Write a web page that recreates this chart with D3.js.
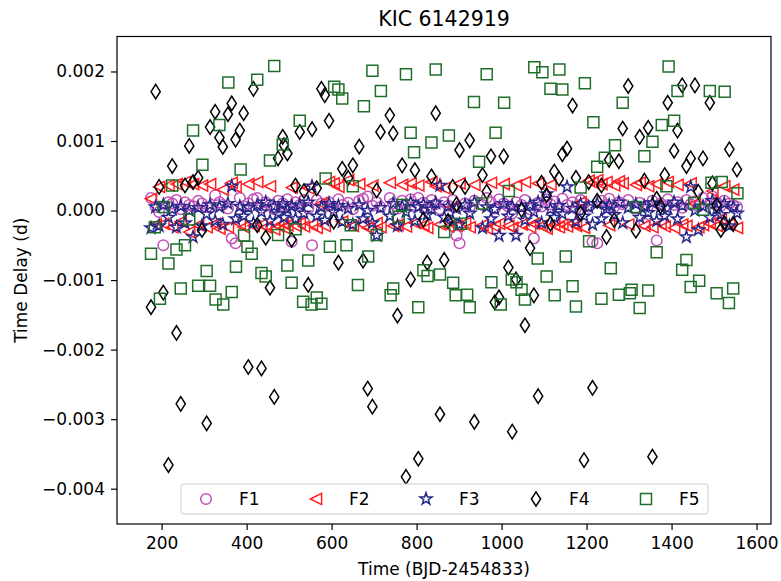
<!DOCTYPE html>
<html>
<head>
<meta charset="utf-8">
<script src="https://cdn.jsdelivr.net/npm/d3@7"></script>
<style>
  body { margin: 0; background: #fff; }
  svg { font-family: "DejaVu Sans", sans-serif; }
</style>
</head>
<body>
<svg width="781" height="581"></svg>
<script>

// time stamps (BJD-2454833) shared by F1..F4
var times = [175,186,194,204,216,225,235,245,255,265,
  274,286,295,306,314,326,336,344,356,365,
  374,384,393,404,416,425,435,445,455,465,
  474,485,488,496,506,515,525,535,545,554,
  565,576,584,594,605,616,625,639,650,665,
  674,685,696,706,715,737,745,755,766,775,
  786,796,804,816,825,835,845,855,865,874,
  885,894,901,914,925,936,955,965,975,984,
  994,1005,1016,1025,1034,1047,1055,1067,1076,1086,
  1094,1106,1115,1124,1135,1143,1154,1167,1175,1186,
  1194,1205,1214,1225,1235,1247,1253,1265,1276,1285,
  1298,1316,1325,1336,1345,1355,1365,1374,1384,1391,
  1406,1414,1425,1435,1445,1455,1463,1474,1490,1496,
  1506,1516,1524,1536,1545,1554]

var f1 = [0.00018,0.00005,-0.00002,-0.0005,0.00012,0.0001,0.00015,0.00002,0.00012,0.00008,
  0.00006,0.00014,0.0001,0.00005,0.00004,0.00022,0.00012,0.00008,0.00003,-0.0004,
  -0.00047,0.00018,0.00006,0.0001,0.00016,0.00018,0.00004,0.00012,0.00008,0.00002,
  0.00014,0.0001,0.00006,0.00016,-0.00045,0.00012,0.00008,0.00015,0.00003,-0.0005,
  0.00015,0.0001,0.00006,0.00012,0.00004,0.00016,0.00008,0.00011,0.00002,0.00014,
  0.00017,0.0002,0.00007,0.00012,0.00005,0.00018,0.0001,0.00003,0.00014,0.00008,
  0.00016,0.00006,0.00018,0.00011,0.00004,0.00015,0.00009,0.00002,0.00012,0.00007,
  0.00015,-0.00036,-0.00047,0.0001,0.00005,0.00014,0.00008,0.00018,0.00012,0.00003,
  0.00016,0.0001,0.00006,-0.00004,0.00012,0.00008,0.00015,0.00002,-0.0004,0.00011,
  0.00006,0.00016,0.00009,0.00013,0.00004,0.00017,0.00008,0.00012,0.00003,0.00015,
  0.0001,0.00006,-0.00045,-0.00047,0.00014,0.00008,0.00017,0.00005,0.00012,0.00009,
  0.00015,0.00003,0.00011,-0.00019,0.00007,0.00014,-0.00043,0.0001,0.00006,0.00016,
  0.00008,0.00012,0.00004,0.00015,0.00009,0.00013,0.00006,0.00018,0.0001,0.0002,
  0.00012,0.00007,0.00014,0.0001,0.00008,0.00005]

var f2 = [0.00017,-0.0002,0.00034,-0.00019,0.00036,-0.00024,0.00038,-0.00016,0.00041,-0.00031,
  0.00038,-0.00021,0.00036,-0.00024,0.00038,-0.00019,-0.00026,0.0003,-0.00024,0.0004,
  0.00034,-0.00019,-0.00024,0.00038,-0.00022,0.00041,-0.0002,-0.00024,0.00035,-0.00027,
  -0.00022,-0.00019,-0.00025,-0.00021,0.00033,-0.00022,-0.00018,-0.00023,0.00032,-0.0002,
  -0.00025,0.0001,-0.00022,0.00041,0.00039,0.00034,-0.00016,0.00044,-0.00022,0.00038,
  -0.0002,-0.00025,0.00036,-0.00018,-0.00024,0.0004,-0.00022,-0.00021,0.00037,-0.00023,
  0.00039,-0.00018,0.00036,-0.00021,-0.00025,0.00041,0.00035,-0.0002,0.00032,-0.00023,
  0.00005,-0.00022,0.00039,-0.00018,-0.00024,0.00037,-0.00021,-0.00026,0.0004,-0.00023,
  -0.00019,0.00038,-0.00022,-0.00025,0.00036,-0.0002,0.00041,-0.00024,-0.00019,0.00039,
  -0.00022,-0.00026,0.00037,-0.00021,-0.00024,-0.0002,-0.00023,-0.00018,-0.00022,0.00012,
  -0.00025,0.00043,0.0004,0.00044,0.00038,0.00041,-0.00021,0.00036,0.00042,0.00039,
  -0.0002,0.00037,0.0004,-0.00022,0.00035,-0.00024,0.00038,-0.00019,-0.00023,0.00041,
  -0.00025,0.00037,-0.0002,-0.00022,0.00039,0.0001,-0.00024,-0.00021,-0.00019,0.00028,
  -0.00022,-0.00012,0.00035,-0.0002,0.0003,-0.00025]

var f3 = [-0.00025,0.00005,-0.00022,0.00008,-0.0001,0.00002,-0.00024,0.00006,-0.00018,0,
  -0.00038,0.00004,-0.00022,-0.00005,0.00008,-0.00015,0.00005,-0.0002,0.0001,0.00035,
  -0.00012,0.00006,-0.00008,0.00004,-0.00018,0.00008,-0.00002,0.00012,-0.00015,0.00006,
  -0.00005,0.0001,-0.0001,0.00002,0.00006,-0.00012,0.00008,-0.00004,0.00012,0.00035,
  -0.00008,0.00005,-0.00014,0.0001,-0.00002,0.00007,-0.00016,0.00003,-0.0002,0.00008,
  -0.00012,0,-0.00018,-0.00036,0.00004,-0.00008,0.0001,-0.00022,0.00006,-0.00002,
  0.00012,-0.00015,0.00005,0.00009,-0.00006,0.00002,0.00011,0.00036,-0.0001,0.00006,
  -0.00015,0.00003,-0.0002,0.00008,-0.00004,0.00012,-0.00025,0.00005,-0.00012,0.00002,
  -0.00036,0.0001,-0.00008,0.00006,-0.00036,0.00004,-0.00014,0.00008,-0.00002,0.00012,
  -0.00018,0.00024,0.00002,-0.0001,0.00007,-0.00005,0.00034,0.00003,-0.00016,0.00009,
  -0.00008,0.00005,-0.0002,0.0001,-0.00012,0.00002,0.00008,-0.00006,0.00012,-0.00018,
  0.00004,0.00009,-0.0001,0.00006,-0.00003,0.00011,-0.00015,0.00005,-0.00008,0.00003,
  0.00012,-0.00012,0.00007,-0.00038,0.00034,0,-0.00028,0.00006,-0.0001,0.00014,
  0.00002,-0.00006,0.0001,-0.00022,0.00005,-0.00004]

var f4 = [-0.00139,0.00171,0.00034,-0.00118,-0.00366,0.00064,-0.00176,-0.00278,0.00036,0.00093,
  0.00041,0.00047,-0.00028,-0.00306,0.0012,0.00142,0.00105,0.000915,0.001385,0.00154,
  0.00102,0.00115,0.0014,-0.00225,0.00175,-0.00021,-0.00227,-0.00039,-0.00111,-0.00268,
  0.00075,0.00106,0.00094,0.00082,-0.00042,0.00036,0.00113,0.00028,-0.00107,0.00117,
  0.00032,0.00175,0.00166,0.00129,-0.00016,-0.00075,0.0006,0.00047,0.00065,0.00092,
  -0.00072,-0.00256,-0.00282,0.00029,0.00113,0.00137,0.00111,-0.00151,0.00065,-0.00383,
  -0.00099,0.00058,-0.00357,-0.00013,-0.00075,0.00049,0.0014,-0.00293,-0.00071,-0.00015,
  0.00034,0.00009,0.00087,0.00034,0.00101,-0.00304,0.00051,0.00027,0.00078,-0.00132,
  -0.00125,0.00078,-0.00082,-0.00318,-0.00099,0.00001,-0.00165,-0.00054,-0.00122,-0.00267,
  0.0004,0.00022,-0.00019,0.00056,0.00046,0.00081,0.00089,0.00151,0.00047,-0.00004,
  -0.00359,0.00041,-0.00255,0.00014,0.00036,-0.00038,0.00073,-0.00014,0.00071,0.00118,
  0.00179,-0.00029,0.00106,0.00043,0.00119,-0.00354,0.00017,0.00006,0.00051,0.00155,
  0.00086,0.00115,0.0018,0.00064,0.00075,0.0018,0.00027,0.00075,0.00155,0.00039,
  0.00008,-0.00028,-0.00018,0.00088,-0.00019,0.00059]

// F5 has its own time stamps
var f5Times = [175,184,196,205,216,225,235,245,255,265,
  274,286,296,306,314,327,336,345,357,365,
  375,386,394,402,412,425,435,445,455,465,
  474,485,496,506,515,525,533,545,553,565,
  576,586,596,606,616,625,635,645,650,662,
  676,686,696,706,716,739,745,758,766,775,
  786,794,804,816,826,835,845,855,865,876,
  886,892,904,919,925,935,947,954,965,976,
  986,998,1006,1017,1024,1035,1047,1055,1077,1085,
  1096,1106,1115,1125,1136,1143,1151,1167,1175,1186,
  1196,1206,1216,1225,1235,1243,1257,1267,1276,1285,
  1302,1306,1316,1325,1336,1345,1355,1365,1377,1388,
  1393,1406,1414,1425,1435,1445,1453,1465,1474,1490,
  1494,1506,1518,1525,1535,1545,1555]

var f5 = [-0.00062,-0.00024,-0.00127,0.00005,-0.00076,0.00036,-0.00056,-0.00112,-0.0005,-0.00013,
  0.00115,-0.00108,0.00066,-0.00087,-0.00108,-0.00128,0.00123,-0.00135,0.00184,-0.00117,
  -0.00081,0.00059,-0.00036,-0.00052,-0.00062,0.00188,-0.0009,-0.00095,0.00072,0.00208,
  -0.00035,0.00095,-0.00079,-0.00104,-0.00027,0.00129,-0.00131,-0.00072,-0.00135,-0.00125,
  -0.00134,0.00046,-0.00052,0.00178,0.00174,0.00161,-0.0005,-0.00021,0.00035,-0.00107,
  0.0015,-0.00066,0.00201,-0.00035,0.00172,-0.00122,-0.00112,-0.00009,0.00008,0.00196,
  0.00112,0.00084,-0.00139,-0.00086,-0.00094,0.00098,0.00203,-0.00092,-0.00031,0.00108,
  -0.00104,-0.00122,-0.00019,-0.00121,-0.00139,0.00156,0.0007,0.0001,0.00196,-0.00103,
  0.00112,-0.00135,0.00155,0.00028,-0.00099,-0.00103,-0.00114,-0.00128,0.00206,-0.00069,
  0.00199,-0.00095,0.00175,-0.00122,0.00203,0.00174,-0.00066,-0.00109,-0.00138,0.00033,
  0.00183,-0.00044,0.00127,0.00063,-0.00127,0.00076,-0.00083,0.00094,-0.00121,0.00155,
  -0.00119,-0.00114,0.00005,-0.0014,0.00078,-0.00115,0.00099,-0.0006,0.00123,0.00035,
  0.00207,0.00129,0.00172,-0.00085,-0.00071,-0.0011,0.00011,-0.00101,0.00001,0.00172,
  0.0004,-0.00119,0.00041,0.00171,-0.00133,-0.00112,0.00025]

var xTicks = [200, 400, 600, 800, 1000, 1200, 1400, 1600]
var yTicks = [-0.004, -0.003, -0.002, -0.001, 0, 0.001, 0.002]

var series = [
  {name: "F1", shape: "circle", color: "#c150b6", t: times, v: f1},
  {name: "F2", shape: "tri", color: "#ff1f1f", t: times, v: f2},
  {name: "F3", shape: "star", color: "#27298a", t: times, v: f3},
  {name: "F4", shape: "diamond", color: "#000000", t: times, v: f4},
  {name: "F5", shape: "square", color: "#1f6e2a", t: f5Times, v: f5}
]

var svg = d3.select("svg")

var box = {left: 117, right: 771, top: 36.5, bottom: 524}

var x = d3.scaleLinear().domain([95, 1634]).range([box.left, box.right])
var y = d3.scaleLinear().domain([-0.004508, 0.002503]).range([box.bottom, box.top])

function starPath(r) {
  var pts = []
  for (var i = 0; i < 10; i++) {
    var rr = (i % 2 == 0) ? r : r * 0.382
    var a = -Math.PI / 2 + i * Math.PI / 5
    pts.push([rr * Math.cos(a), rr * Math.sin(a)])
  }
  return "M" + pts.map(function(p){ return p[0].toFixed(2) + "," + p[1].toFixed(2); }).join("L") + "Z"
}

var shapes = {
  circle: "M5.3,0A5.3,5.3 0 1,1 -5.3,0A5.3,5.3 0 1,1 5.3,0Z",
  tri: "M-5.6,0L5.6,-5.6L5.6,5.6Z",
  star: starPath(6.3),
  diamond: "M0,-7.2L4.6,0L0,7.2L-4.6,0Z",
  square: "M-5.5,-5.5L5.5,-5.5L5.5,5.5L-5.5,5.5Z"
}

// clip to the axes box
svg.append("defs").append("clipPath").attr("id", "clip")
  .append("rect")
    .attr("x", box.left).attr("y", box.top)
    .attr("width", box.right - box.left).attr("height", box.bottom - box.top)

var plot = svg.append("g").attr("clip-path", "url(#clip)")

series.forEach(function(s){
  var pts = s.t.map(function(t, i){ return {t: t, v: s.v[i]}; })
  plot.selectAll(".m-" + s.name).data(pts)
    .enter().append("path")
      .attr("class", "m-" + s.name)
      .attr("d", shapes[s.shape])
      .attr("transform", function(d){ return "translate(" + x(d.t) + "," + y(d.v) + ")"; })
      .style("fill", "none")
      .style("stroke", s.color)
      .style("stroke-width", 1.5)
})

// axes
svg.append("g")
  .attr("transform", "translate(0," + box.bottom + ")")
  .call(d3.axisBottom(x).tickValues(xTicks).tickSize(6).tickPadding(7).tickFormat(d3.format("d")))

svg.append("g")
  .attr("transform", "translate(" + box.left + ",0)")
  .call(d3.axisLeft(y).tickValues(yTicks).tickSize(6).tickPadding(6).tickFormat(d3.format(".3f")))

svg.selectAll(".domain").remove()
svg.selectAll(".tick line").style("stroke", "#000").style("stroke-width", 1.2)
svg.selectAll(".tick text").style("font-size", "17px").style("fill", "#000")
  .style("font-family", "'DejaVu Sans', sans-serif")

svg.append("rect")
  .attr("x", box.left).attr("y", box.top)
  .attr("width", box.right - box.left).attr("height", box.bottom - box.top)
  .style("fill", "none").style("stroke", "#000").style("stroke-width", 1.2)

// labels
svg.append("text")
  .attr("x", (box.left + box.right) / 2).attr("y", 26)
  .attr("text-anchor", "middle")
  .style("font-size", "20.5px")
  .text("KIC 6142919")

svg.append("text")
  .attr("x", (box.left + box.right) / 2).attr("y", 575)
  .attr("text-anchor", "middle")
  .style("font-size", "17px")
  .text("Time (BJD-2454833)")

svg.append("text")
  .attr("transform", "translate(27," + ((box.top + box.bottom) / 2) + ") rotate(-90)")
  .attr("text-anchor", "middle")
  .style("font-size", "17px")
  .text("Time Delay (d)")

// legend
var legend = svg.append("g")

legend.append("rect")
  .attr("x", 181).attr("y", 484)
  .attr("width", 527).attr("height", 30)
  .attr("rx", 3)
  .style("fill", "#fff").style("fill-opacity", 0.8)
  .style("stroke", "#cccccc").style("stroke-width", 1)

var legendX = d3.scalePoint().domain(series.map(function(d){ return d.name; })).range([206, 646])

series.forEach(function(s){
  legend.append("path")
    .attr("d", shapes[s.shape])
    .attr("transform", "translate(" + legendX(s.name) + ",499)")
    .style("fill", "none")
    .style("stroke", s.color)
    .style("stroke-width", 1.5)
  legend.append("text")
    .attr("x", legendX(s.name) + 33).attr("y", 505)
    .style("font-size", "17px")
    .text(s.name)
})

</script>
</body>
</html>
